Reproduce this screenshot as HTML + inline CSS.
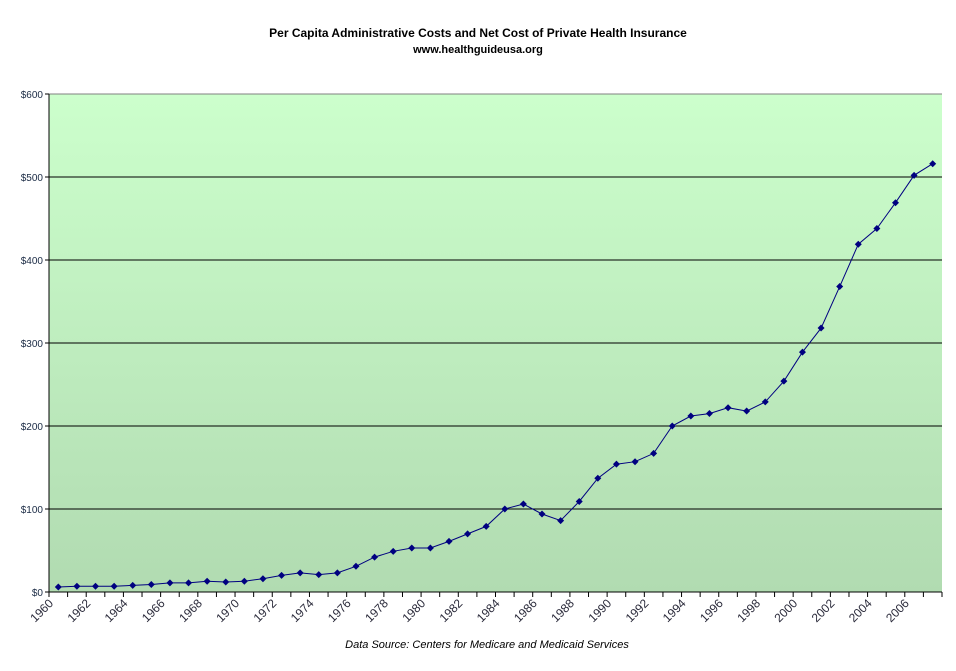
<!DOCTYPE html>
<html><head><meta charset="utf-8"><style>
body{margin:0;background:#fff;}
svg{display:block;font-family:"Liberation Sans",Arial,sans-serif;}
</style></head><body>
<svg id="c" width="956" height="671" viewBox="0 0 956 671">
<defs><linearGradient id="g" x1="0" y1="0" x2="0" y2="1">
<stop offset="0" stop-color="#ccffcc"/><stop offset="1" stop-color="#b1dbb1"/></linearGradient></defs>
<text x="478" y="37" text-anchor="middle" font-size="12" font-weight="bold" fill="#000">Per Capita Administrative Costs and Net Cost of Private Health Insurance</text>
<text x="478" y="53" text-anchor="middle" font-size="11" font-weight="bold" fill="#000">www.healthguideusa.org</text>
<rect x="49" y="94" width="893" height="498" fill="url(#g)"/>
<line x1="49" x2="942" y1="94" y2="94" stroke="#808080"/>
<text x="487" y="648" text-anchor="middle" font-size="11" font-style="italic" fill="#000">Data Source: Centers for Medicare and Medicaid Services</text>
</svg>
<script>
var s=document.getElementById('c'),NS='http://www.w3.org/2000/svg';
function el(t,a,txt){var e=document.createElementNS(NS,t);for(var k in a)e.setAttribute(k,a[k]);if(txt!=null)e.textContent=txt;s.appendChild(e);return e;}
var L=49,R=942,T=94,B=592,H=B-T,W=R-L;
for(var i=0;i<=6;i++){var y=B-H*i/6;
 if(i>0&&i<6)el('line',{x1:L,x2:R,y1:y,y2:y,stroke:'#000','stroke-width':1});
 el('line',{x1:L-4,x2:L,y1:y,y2:y,stroke:'#000'});
 el('text',{x:L-6,y:y+4,'text-anchor':'end','font-size':10,fill:'#1a2a44'},'$'+(i*100));}
el('line',{x1:L,x2:L,y1:T,y2:B,stroke:'#000'});
el('line',{x1:L,x2:R,y1:B,y2:B,stroke:'#000'});
var d=[6,7,7,7,8,9,11,11,13,12,13,16,20,23,21,23,31,42,49,53,53,61,70,79,100,106,94,86,109,137,154,157,167,200,212,215,222,218,229,254,289,318,368,419,438,469,502,516];
var n=d.length,cw=W/n;
for(var i=0;i<=n;i++){var x=L+cw*i;el('line',{x1:x,x2:x,y1:B,y2:B+5,stroke:'#000'});}
for(var i=0;i<n;i+=2){var x=L+cw*i+5,y=B+12;
 el('text',{x:x,y:y,'text-anchor':'end','font-size':12,fill:'#2a2a3a',transform:'rotate(-45 '+x+' '+y+')'},String(1960+i));}
var pts=d.map(function(v,i){return [L+cw*(i+0.5),B-v/600*H];});
el('polyline',{points:pts.map(function(p){return p[0].toFixed(1)+','+p[1].toFixed(1)}).join(' '),fill:'none',stroke:'#000080','stroke-width':1});
pts.forEach(function(p){el('path',{d:'M'+p[0]+' '+(p[1]-3.5)+'L'+(p[0]+3.5)+' '+p[1]+'L'+p[0]+' '+(p[1]+3.5)+'L'+(p[0]-3.5)+' '+p[1]+'Z',fill:'#000080'});});
</script>
</body></html>
